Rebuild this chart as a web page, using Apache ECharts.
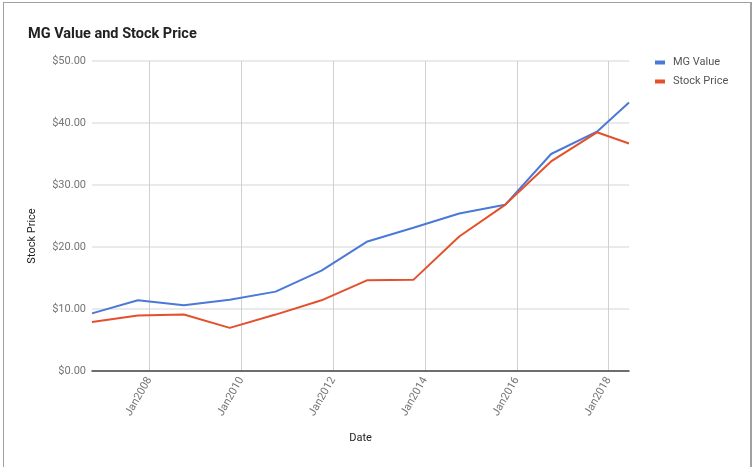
<!DOCTYPE html>
<html>
<head>
<meta charset="utf-8">
<script src="https://cdn.jsdelivr.net/npm/echarts@6/dist/echarts.min.js"></script>
<style>
  html, body { margin: 0; padding: 0; background: #fff; }
  #chart { position: absolute; left: 0; top: 0; width: 753px; height: 467px; }
  #frame { position: absolute; left: 3px; top: 2px; width: 746px; height: 470px;
           border-left: 1px solid #a0a0a0; border-top: 1px solid #a0a0a0; border-right: 2px solid #a0a0a0;
           pointer-events: none; }
</style>
</head>
<body>
<div id="chart"></div>
<div id="frame"></div>
<script>
// ---- data ----
const dates = ['2006-09-30', '2007-09-30', '2008-09-30', '2009-09-30', '2010-09-30', '2011-09-30',
               '2012-09-30', '2013-09-30', '2014-09-30', '2015-09-30', '2016-09-30', '2017-09-30', '2018-06-12'];
const mgValue = [9.3, 11.4, 10.6, 11.5, 12.8, 16.2, 20.9, 23.1, 25.4, 26.8, 35.0, 38.6, 43.3];
const stockPrice = [7.9, 8.95, 9.1, 6.95, 9.1, 11.4, 14.65, 14.7, 21.7, 26.8, 33.8, 38.5, 36.7];
const seriesNames = ['MG Value', 'Stock Price'];
const yTicks = [0, 10, 20, 30, 40, 50];

const ts = d => Date.parse(d + 'T00:00:00Z');
const TWO_YEARS = 2 * 365 * 24 * 3600 * 1000;

const chart = echarts.init(document.getElementById('chart'));
chart.setOption({
  useUTC: true,
  animation: false,
  textStyle: { fontFamily: 'Roboto' },
  title: {
    text: 'MG Value and Stock Price',
    left: 23, top: 22,
    textStyle: { fontFamily: 'Roboto', fontWeight: 'bold', fontSize: 14.5, color: '#222' }
  },
  legend: {
    orient: 'vertical', left: 655, top: 57, padding: 0,
    icon: 'rect', itemWidth: 10, itemHeight: 4, itemGap: 8,
    textStyle: { fontFamily: 'Roboto', fontSize: 11, color: '#555', padding: [0, 0, 0, 3] },
    data: seriesNames
  },
  grid: { left: 92, right: 124, top: 61, bottom: 96, containLabel: false },
  xAxis: {
    type: 'time',
    min: ts(dates[0]), max: ts(dates[dates.length - 1]),
    minInterval: TWO_YEARS, maxInterval: TWO_YEARS,
    name: 'Date', nameLocation: 'middle', nameGap: 62,
    nameTextStyle: { fontFamily: 'Roboto', fontSize: 11, color: '#222' },
    axisLine: { show: true, lineStyle: { color: '#444', width: 1.5 } },
    axisTick: { show: false },
    splitLine: { show: true, showMinLine: false, showMaxLine: false, lineStyle: { color: '#d0d0d0', width: 1 } },
    axisLabel: {
      rotate: 60, margin: 7, fontSize: 11, color: '#757575', fontFamily: 'Roboto',
      showMinLabel: false, showMaxLabel: false,
      formatter: function (v) {
        const d = new Date(v);
        return (d.getUTCMonth() === 0 && d.getUTCDate() === 1) ? 'Jan' + d.getUTCFullYear() : '';
      }
    }
  },
  yAxis: {
    type: 'value',
    min: yTicks[0], max: yTicks[yTicks.length - 1], interval: yTicks[1] - yTicks[0],
    name: 'Stock Price', nameLocation: 'middle', nameGap: 54,
    nameTextStyle: { fontFamily: 'Roboto', fontSize: 11, color: '#222', padding: [0, 40, 0, 0] },
    axisLine: { show: false },
    axisTick: { show: false },
    splitLine: { lineStyle: { color: '#e3e3e3', width: 1.5 } },
    axisLabel: {
      margin: 6, fontSize: 11, color: '#757575', fontFamily: 'Roboto',
      formatter: v => '$' + v.toFixed(2)
    }
  },
  series: [
    {
      name: seriesNames[0], type: 'line', symbol: 'none', smooth: false,
      lineStyle: { width: 2, color: '#4a79d8' }, itemStyle: { color: '#4a79d8' },
      data: dates.map((d, i) => [ts(d), mgValue[i]])
    },
    {
      name: seriesNames[1], type: 'line', symbol: 'none', smooth: false,
      lineStyle: { width: 2, color: '#e5502c' }, itemStyle: { color: '#e5502c' },
      data: dates.map((d, i) => [ts(d), stockPrice[i]])
    }
  ]
});
</script>
</body>
</html>
